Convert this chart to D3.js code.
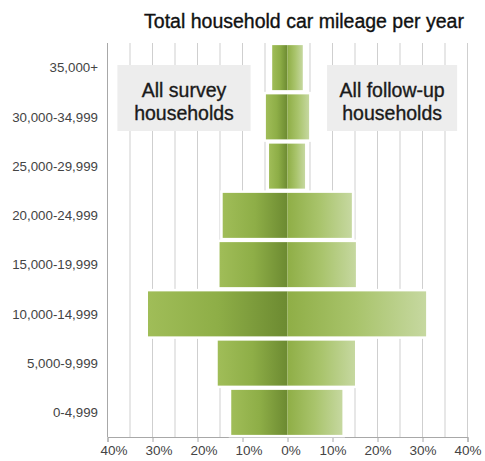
<!DOCTYPE html>
<html><head><meta charset="utf-8">
<script src="https://cdn.jsdelivr.net/npm/d3@7"></script>
<style>body{margin:0;background:#fff}svg{display:block;font-family:"Liberation Sans",Arial,sans-serif}</style>
</head><body><div id="chart"></div>
<script>
const categories = ["35,000+","30,000-34,999","25,000-29,999","20,000-24,999","15,000-19,999","10,000-14,999","5,000-9,999","0-4,999"];
const surveyValues = [3.4, 4.8, 4.1, 14.4, 15.1, 31.0, 15.5, 12.5];
const followupValues = [3.4, 4.8, 3.9, 14.3, 15.2, 30.8, 15.0, 12.2];
const tickValues = [-40,-30,-20,-10,0,10,20,30,40];
const tickLabels = ["40%","30%","20%","10%","0%","10%","20%","30%","40%"];
const gridValues = d3.range(-40, 41, 5);
const title = "Total household car mileage per year";
const leftLabel = ["All survey","households"];
const rightLabel = ["All follow-up","households"];

const W = 485, H = 461;
const svg = d3.select("#chart").append("svg").attr("width", W).attr("height", H);
const x = d3.scaleLinear().domain([-40, 40]).range([107.5, 467.5]);
const y = d3.scaleBand().domain(categories).range([43, 437]).paddingInner(0).paddingOuter(0);

const defs = svg.append("defs");
const gl = defs.append("linearGradient").attr("id","gl").attr("x1","0").attr("x2","1").attr("y1","0").attr("y2","0");
gl.append("stop").attr("offset","0").attr("stop-color","#a0bd58");
gl.append("stop").attr("offset","0.5").attr("stop-color","#8eae47");
gl.append("stop").attr("offset","1").attr("stop-color","#6c8a31");
const gr = defs.append("linearGradient").attr("id","gr").attr("x1","0").attr("x2","1").attr("y1","0").attr("y2","0");
gr.append("stop").attr("offset","0").attr("stop-color","#8fae46");
gr.append("stop").attr("offset","0.5").attr("stop-color","#a9c46c");
gr.append("stop").attr("offset","1").attr("stop-color","#c6d8a0");

// title
svg.append("text").attr("x", 304).attr("y", 28).attr("text-anchor","middle")
  .attr("font-size", 19.5).attr("fill","#111").attr("stroke","#111").attr("stroke-width",0.35).text(title);

// gridlines
svg.append("g").selectAll("line").data(gridValues).join("line")
  .attr("x1", d => x(d)).attr("x2", d => x(d))
  .attr("y1", 43).attr("y2", 437)
  .attr("stroke", d => d === -40 ? "#a8a8a8" : "#cfcfcf").attr("stroke-width", 1);

// bottom axis
const axis = d3.axisBottom(x).tickValues(tickValues).tickSize(5).tickFormat((d,i) => tickLabels[i]);
const ax = svg.append("g").attr("transform", "translate(0,437)").call(axis);
ax.select(".domain").attr("stroke", "#a8a8a8");
ax.selectAll(".tick line").attr("stroke", "#a8a8a8");
ax.selectAll(".tick text").attr("font-size", 13.5).attr("fill", "#444")
  .attr("font-family", "Liberation Sans, Arial, sans-serif").attr("y", 8)
  .attr("dx", d => d < 0 ? 6 : (d === 0 ? 3 : 0));

// category labels
svg.append("g").selectAll("text").data(categories).join("text")
  .attr("x", 98).attr("y", d => y(d) + y.bandwidth()/2).attr("dy", "0.35em")
  .attr("text-anchor", "end").attr("font-size", 13.3).attr("fill", "#444").text(d => d);

// bars
const bh = 45, halo = 2.5;
const rows = categories.map((c, i) => ({c, l: surveyValues[i], r: followupValues[i]}));
const g = svg.append("g");
g.selectAll("rect.halo").data(rows).join("rect").attr("class","halo")
  .attr("x", d => x(-d.l) - halo).attr("width", d => x(d.r) - x(-d.l) + 2*halo)
  .attr("y", d => y(d.c) + (y.bandwidth()-bh)/2 - halo).attr("height", bh + 2*halo)
  .attr("fill", "#fff");
g.selectAll("rect.left").data(rows).join("rect").attr("class","left")
  .attr("x", d => x(-d.l)).attr("width", d => x(0) - x(-d.l))
  .attr("y", d => y(d.c) + (y.bandwidth()-bh)/2).attr("height", bh)
  .attr("fill", "url(#gl)");
g.selectAll("rect.right").data(rows).join("rect").attr("class","right")
  .attr("x", x(0)).attr("width", d => x(d.r) - x(0))
  .attr("y", d => y(d.c) + (y.bandwidth()-bh)/2).attr("height", bh)
  .attr("fill", "url(#gr)");

// label boxes
function box(x0, x1, lines) {
  const bg = svg.append("g");
  bg.append("rect").attr("x", x(x0)).attr("width", x(x1) - x(x0)).attr("y", 65).attr("height", 66).attr("fill", "#ededed");
  const cx = (x(x0) + x(x1)) / 2;
  lines.forEach((t, i) => bg.append("text").attr("x", cx).attr("y", 97 + i*23)
    .attr("text-anchor","middle").attr("font-size", 19.5).attr("fill", "#1a1a1a")
    .attr("stroke", "#1a1a1a").attr("stroke-width", 0.35).text(t));
}
box(-37.8, -8.2, leftLabel);
box(8.8, 37.7, rightLabel);
</script></body></html>
